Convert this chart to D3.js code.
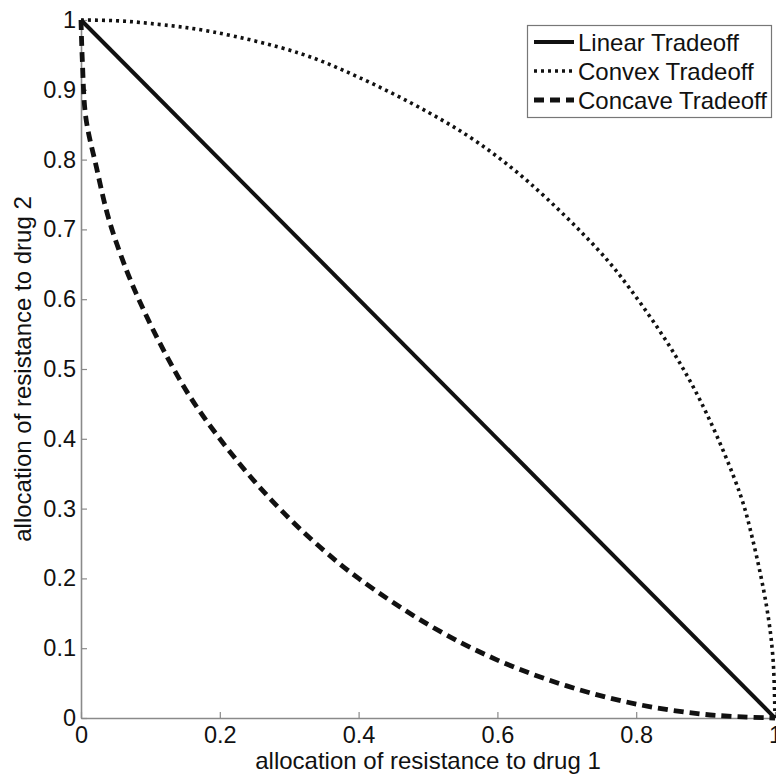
<!DOCTYPE html>
<html>
<head>
<meta charset="utf-8">
<script src="https://cdn.jsdelivr.net/npm/d3@7"></script>
<style>
  body { margin: 0; background: #fff; }
  text { font-family: "Liberation Sans", Arial, Helvetica, sans-serif; fill: #111; }
</style>
</head>
<body>
<script>
// series
var linearX = [0, 1];
var linearY = [1, 0];

var convexX = [0, 0.05, 0.1, 0.19, 0.316, 0.4, 0.5, 0.571, 0.647, 0.744, 0.791, 0.856, 0.902, 0.95, 0.968, 0.988, 0.997, 1];
var convexY = [1, 0.999, 0.995, 0.983, 0.952, 0.918, 0.868, 0.825, 0.766, 0.672, 0.615, 0.52, 0.435, 0.32, 0.255, 0.159, 0.087, 0];

var concaveX = [0, 0.002, 0.007, 0.022, 0.04, 0.065, 0.09, 0.12, 0.156, 0.2, 0.25, 0.3, 0.35, 0.4, 0.5, 0.6, 0.7, 0.8, 0.9, 1];
var concaveY = [1, 0.94, 0.86, 0.79, 0.715, 0.643, 0.585, 0.525, 0.462, 0.40, 0.339, 0.286, 0.24, 0.20, 0.134, 0.083, 0.046, 0.02, 0.005, 0];

var xTicks = [0, 0.2, 0.4, 0.6, 0.8, 1];
var yTicks = [0, 0.1, 0.2, 0.3, 0.4, 0.5, 0.6, 0.7, 0.8, 0.9, 1];
var seriesNames = ["Linear Tradeoff", "Convex Tradeoff", "Concave Tradeoff"];

var w = 776, h = 774;
var plotLeft = 81, plotRight = 775, plotTop = 20, plotBottom = 718;

var svg = d3.select("body").append("svg")
    .attr("width", w)
    .attr("height", h);

var x = d3.scaleLinear().domain([0, 1]).range([plotLeft, plotRight]);
var y = d3.scaleLinear().domain([0, 1]).range([plotBottom, plotTop]);

var fmt = function(d){ return d === 0 || d === 1 ? String(d) : d3.format(".1f")(d); };

//axes, MATLAB style with inward ticks
var xAxis = svg.append("g")
    .attr("transform", "translate(0," + plotBottom + ")")
    .call(d3.axisBottom(x).tickValues(xTicks).tickFormat(fmt).tickSize(-6).tickSizeOuter(0).tickPadding(8));

var yAxis = svg.append("g")
    .attr("transform", "translate(" + plotLeft + ",0)")
    .call(d3.axisLeft(y).tickValues(yTicks).tickFormat(fmt).tickSize(-6).tickSizeOuter(0).tickPadding(5));

[xAxis, yAxis].forEach(function(g){
    g.select(".domain").attr("stroke", "#8a8a8a").attr("stroke-width", 1.6);
    g.selectAll(".tick line").attr("stroke", "#8a8a8a").attr("stroke-width", 1.2);
    g.selectAll(".tick text").attr("font-size", 23.5).attr("fill", "#111")
        .attr("font-family", "Liberation Sans, Arial, sans-serif");
});

//lines
var styles = [
    { width: 4, dash: null },
    { width: 3.6, dash: "3,4" },
    { width: 4.8, dash: "10,6" }
];

var series = [
    d3.zip(linearX, linearY),
    d3.zip(convexX, convexY),
    d3.zip(concaveX, concaveY)
];

var line = d3.line()
    .x(function(d){ return x(d[0]); })
    .y(function(d){ return y(d[1]); })
    .curve(d3.curveCatmullRom);

svg.selectAll(".series")
    .data(series)
    .enter()
    .append("path")
    .attr("class", "series")
    .attr("d", line)
    .attr("fill", "none")
    .attr("stroke", "#111")
    .attr("stroke-width", function(d, i){ return styles[i].width; })
    .attr("stroke-dasharray", function(d, i){ return styles[i].dash; });

//axis titles
svg.append("text")
    .attr("x", (plotLeft + plotRight) / 2)
    .attr("y", 769)
    .attr("text-anchor", "middle")
    .attr("font-size", 24)
    .text("allocation of resistance to drug 1");

svg.append("text")
    .attr("transform", "translate(31," + (plotTop + plotBottom) / 2 + ") rotate(-90)")
    .attr("text-anchor", "middle")
    .attr("font-size", 24)
    .text("allocation of resistance to drug 2");

//legend
var legend = svg.append("g");
legend.append("rect")
    .attr("x", 527.5).attr("y", 25.5)
    .attr("width", 244).attr("height", 92)
    .attr("fill", "#fff")
    .attr("stroke", "#777")
    .attr("stroke-width", 1.2);

var rows = legend.selectAll(".row")
    .data(seriesNames)
    .enter()
    .append("g")
    .attr("class", "row")
    .attr("transform", function(d, i){ return "translate(0," + (42 + i * 29) + ")"; });

rows.append("line")
    .attr("x1", 534).attr("x2", 574)
    .attr("stroke", "#111")
    .attr("stroke-width", function(d, i){ return styles[i].width; })
    .attr("stroke-dasharray", function(d, i){ return styles[i].dash; });

rows.append("text")
    .attr("x", 578)
    .attr("dy", "0.36em")
    .attr("font-size", 24)
    .text(function(d){ return d; });
</script>
</body>
</html>
